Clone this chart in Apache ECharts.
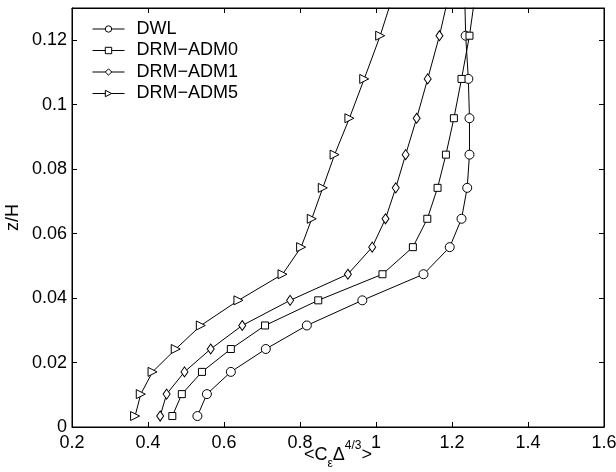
<!DOCTYPE html>
<html>
<head>
<meta charset="utf-8">
<script src="https://cdn.jsdelivr.net/npm/echarts@6/dist/echarts.min.js"></script>
<style>
  html, body { margin: 0; padding: 0; background: #fff; }
  #chart { width: 616px; height: 472px; }
</style>
</head>
<body>
<div id="chart"></div>
<script>
// Height levels z/H of the profile samples (last one lies just above the plotted range)
const zLevels = [0.0034, 0.0102, 0.0171, 0.0242, 0.0315, 0.0393, 0.0474, 0.0558,
                 0.0646, 0.0742, 0.0845, 0.0958, 0.108, 0.1214, 0.1358];

// <C_eps Delta^{4/3}> profiles
const dwl     = [0.530, 0.555, 0.618, 0.710, 0.818, 0.964, 1.125, 1.194,
                 1.225, 1.240, 1.246, 1.246, 1.243, 1.236, 1.233];
const drmAdm0 = [0.464, 0.489, 0.542, 0.618, 0.708, 0.848, 1.017, 1.097,
                 1.135, 1.162, 1.184, 1.205, 1.225, 1.246, 1.263];
const drmAdm1 = [0.432, 0.449, 0.496, 0.565, 0.648, 0.774, 0.926, 0.990,
                 1.025, 1.052, 1.078, 1.107, 1.136, 1.167, 1.195];
const drmAdm5 = [0.366, 0.381, 0.412, 0.473, 0.539, 0.638, 0.754, 0.803,
                 0.831, 0.860, 0.891, 0.930, 0.969, 1.011, 1.050];

const seriesNames = ['DWL', 'DRM\u2212ADM0', 'DRM\u2212ADM1', 'DRM\u2212ADM5'];
const xTicks = [0.2, 0.4, 0.6, 0.8, 1.0, 1.2, 1.4, 1.6];
const yTicks = [0, 0.02, 0.04, 0.06, 0.08, 0.1, 0.12];

const FONT = 'Liberation Sans, Arial, Helvetica, sans-serif';

function pairs(xs) { return xs.map((x, i) => [x, zLevels[i]]); }

function mkSeries(name, xs, symbol, size, rotate) {
  return {
    name: name,
    type: 'line',
    data: pairs(xs),
    symbol: symbol,
    symbolSize: size,
    symbolRotate: rotate || 0,
    showAllSymbol: true,
    lineStyle: { color: '#000', width: 1 },
    itemStyle: { color: '#fff', borderColor: '#000', borderWidth: 1 },
    emphasis: { disabled: true },
    animation: false
  };
}

function frameAxis(extra) {
  return Object.assign({
    axisLine: { show: true, onZero: false, lineStyle: { color: '#000', width: 1 } },
    axisTick: { show: true, inside: true, length: 5, lineStyle: { color: '#000', width: 1 } },
    splitLine: { show: false }
  }, extra);
}

const chart = echarts.init(document.getElementById('chart'));
chart.setOption({
  backgroundColor: '#fff',
  animation: false,
  grid: {
    left: 72, right: 12, top: 8, bottom: 45,
    outerBoundsMode: 'none',
    show: true, borderColor: '#000', borderWidth: 1, backgroundColor: 'rgba(0,0,0,0)'
  },
  legend: {
    orient: 'vertical',
    left: 87,
    top: 15,
    itemWidth: 32,
    itemHeight: 8,
    itemGap: 3.5,
    data: seriesNames,
    itemStyle: { color: '#fff', borderColor: '#000', borderWidth: 1 },
    lineStyle: { color: '#000', width: 1 },
    textStyle: { fontFamily: FONT, fontSize: 18, color: '#000', lineHeight: 18, padding: [0, 0, 0, 7] },
    selectedMode: false
  },
  xAxis: [
    frameAxis({
      type: 'value', min: 0.2, max: 1.6, interval: 0.2, position: 'bottom',
      axisLabel: { fontFamily: FONT, fontSize: 18, color: '#000', margin: 7,
        formatter: v => { const s = +v.toFixed(1); return xTicks.some(t => Math.abs(t - s) < 1e-9) ? String(s) : ''; } },
      name: '{m|<C}{s|ε}{m|Δ}{p|4/3}{m|>}',
      nameLocation: 'middle',
      nameGap: 13,
      nameMoveOverlap: false,
      nameTextStyle: {
        fontFamily: FONT, color: '#000',
        rich: {
          m: { fontFamily: FONT, fontSize: 18, color: '#000', lineHeight: 30 },
          s: { fontFamily: FONT, fontSize: 12, color: '#000', lineHeight: 14, verticalAlign: 'bottom' },
          p: { fontFamily: FONT, fontSize: 12, color: '#000', lineHeight: 14, verticalAlign: 'top' }
        }
      }
    }),
    frameAxis({
      type: 'value', min: 0.2, max: 1.6, interval: 0.2, position: 'top',
      axisLabel: { show: false }
    })
  ],
  yAxis: [
    frameAxis({
      type: 'value', min: 0, max: 0.13, interval: 0.02, position: 'left',
      axisLabel: { fontFamily: FONT, fontSize: 18, color: '#000', margin: 5, showMaxLabel: false,
        formatter: v => { const s = +v.toFixed(2); return yTicks.some(t => Math.abs(t - s) < 1e-9) ? String(s) : ''; } },
      name: 'z/H',
      nameLocation: 'middle',
      nameGap: 50,
      nameMoveOverlap: false,
      nameTextStyle: { fontFamily: FONT, fontSize: 18, color: '#000' }
    }),
    frameAxis({
      type: 'value', min: 0, max: 0.13, interval: 0.02, position: 'right',
      axisLabel: { show: false }
    })
  ],
  series: [
    mkSeries(seriesNames[0], dwl, 'circle', 9),
    mkSeries(seriesNames[1], drmAdm0, 'rect', 7),
    mkSeries(seriesNames[2], drmAdm1, 'diamond', [7, 10]),
    mkSeries(seriesNames[3], drmAdm5, 'triangle', 9, -90)
  ]
});
</script>
</body>
</html>
